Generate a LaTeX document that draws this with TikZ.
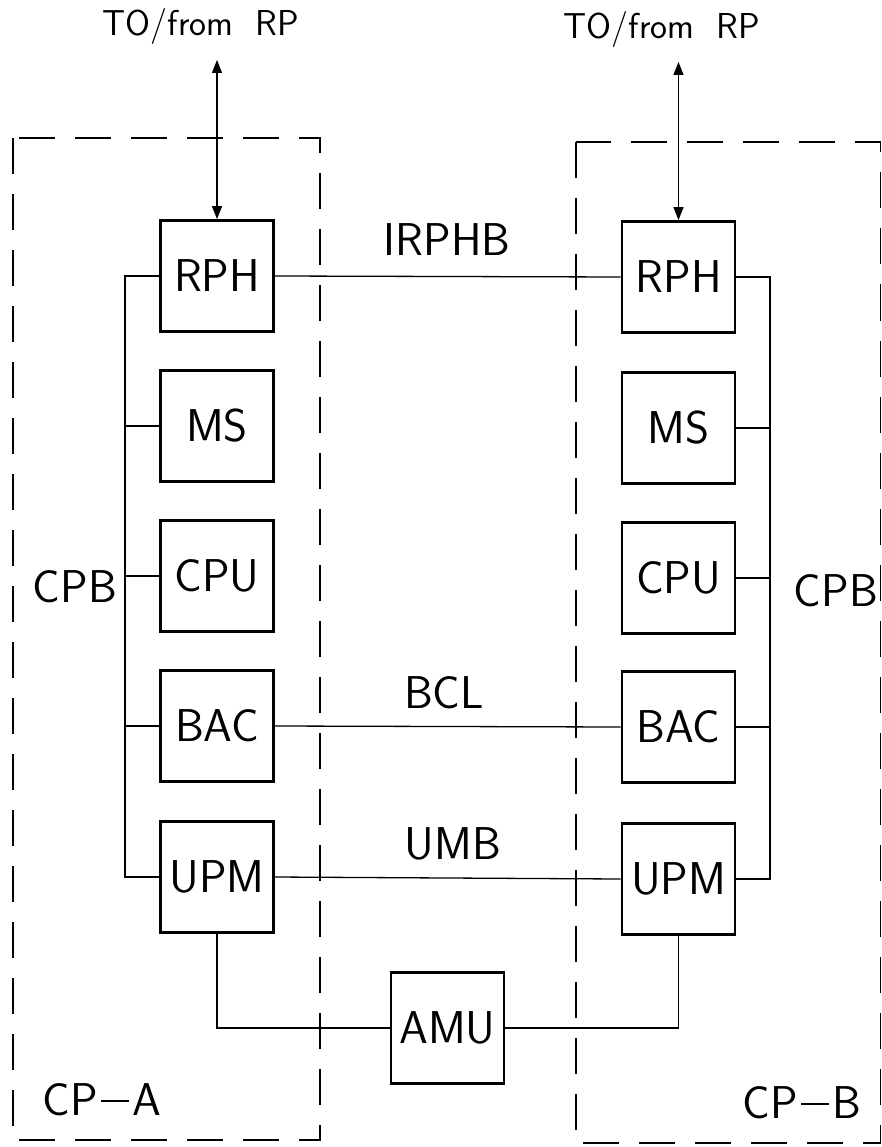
\documentclass[tikz,border=0pt]{standalone}
\usetikzlibrary{arrows.meta}
\newcommand{\cpdash}{\kern0.08em\rule[0.28em]{0.6em}{0.045em}\kern0.08em}
\begin{document}
\begin{tikzpicture}[x=1pt,y=-1pt,
  every node/.style={font=\sffamily\fontsize{46}{50}\selectfont},
  unit/.style={draw, line width=2.8pt, minimum width=113pt, minimum height=111pt, inner sep=0pt},
  conn/.style={line width=1.3pt},
  cpbox/.style={line width=1.5pt, dash pattern=on 36pt off 20pt},
  lbl/.style={inner sep=0pt, anchor=base},
  small/.style={inner sep=0pt, anchor=base, font=\sffamily\fontsize{36}{40}\selectfont},
  rparrow/.style={line width=1.3pt, {Triangle[length=13pt,width=10pt]}-{Triangle[length=13pt,width=10pt]}}
]
\useasboundingbox (0,0) rectangle (882,1147);

% dashed processor boundaries
\draw[cpbox] (13,138) rectangle (320,1140);
\draw[cpbox] (576,142) rectangle (880.5,1143);

% left CP units
\node[unit] (LRPH) at (217,276) {RPH};
\node[unit] (LMS)  at (217,426) {MS};
\node[unit] (LCPU) at (217,576) {CPU};
\node[unit] (LBAC) at (217,726) {BAC};
\node[unit] (LUPM) at (217,877) {UPM};

% right CP units
\node[unit] (RRPH) at (678.5,277) {RPH};
\node[unit] (RMS)  at (678.5,428) {MS};
\node[unit] (RCPU) at (678.5,578) {CPU};
\node[unit] (RBAC) at (678.5,727) {BAC};
\node[unit] (RUPM) at (678.5,879) {UPM};

\node[unit] (AMU) at (447.5,1028) {AMU};

% bus coordinates
\coordinate (busLt) at (125,276);
\coordinate (busLb) at (125,877);
\coordinate (busRt) at (770,277);
\coordinate (busRb) at (770,879);

% left CPB bus
\draw[conn] (LRPH.west) -- (busLt) -- (busLb) -- (LUPM.west);
\foreach \n in {LMS,LCPU,LBAC} \draw[conn] (\n.west) -- (\n.west -| busLt);

% right CPB bus
\draw[conn] (RRPH.east) -- (busRt) -- (busRb) -- (RUPM.east);
\foreach \n in {RMS,RCPU,RBAC} \draw[conn] (\n.east) -- (\n.east -| busRt);

% inter-CP links
\draw[conn] (LRPH.east) -- (RRPH.west);
\draw[conn] (LBAC.east) -- (RBAC.west);
\draw[conn] (LUPM.east) -- (RUPM.west);
\draw[conn] (LUPM.south) |- (AMU.west);
\draw[conn] (RUPM.south) |- (AMU.east);

% RP arrows
\coordinate (rpL) at (217,60);
\coordinate (rpR) at (678.5,62);
\draw[rparrow] (rpL) -- (LRPH.north);
\draw[rparrow] (rpR) -- (RRPH.north);

% labels
\node[small] (toL) at (201,36) {TO/from\ \ RP};
\node[small] (toR) at (662,39) {TO/from\ \ RP};
\node[lbl] (irphb) at (447,256) {IRPHB};
\node[lbl] (bcl) at (444,708) {BCL};
\node[lbl] (umb) at (453,859) {UMB};
\node[lbl] (cpbL) at (75,602) {CPB};
\node[lbl] (cpbR) at (836,606) {CPB};
\node[lbl] (cpa) at (102,1115) {CP\cpdash A};
\node[lbl] (cpb) at (802,1118) {CP\cpdash B};
\end{tikzpicture}
\end{document}
